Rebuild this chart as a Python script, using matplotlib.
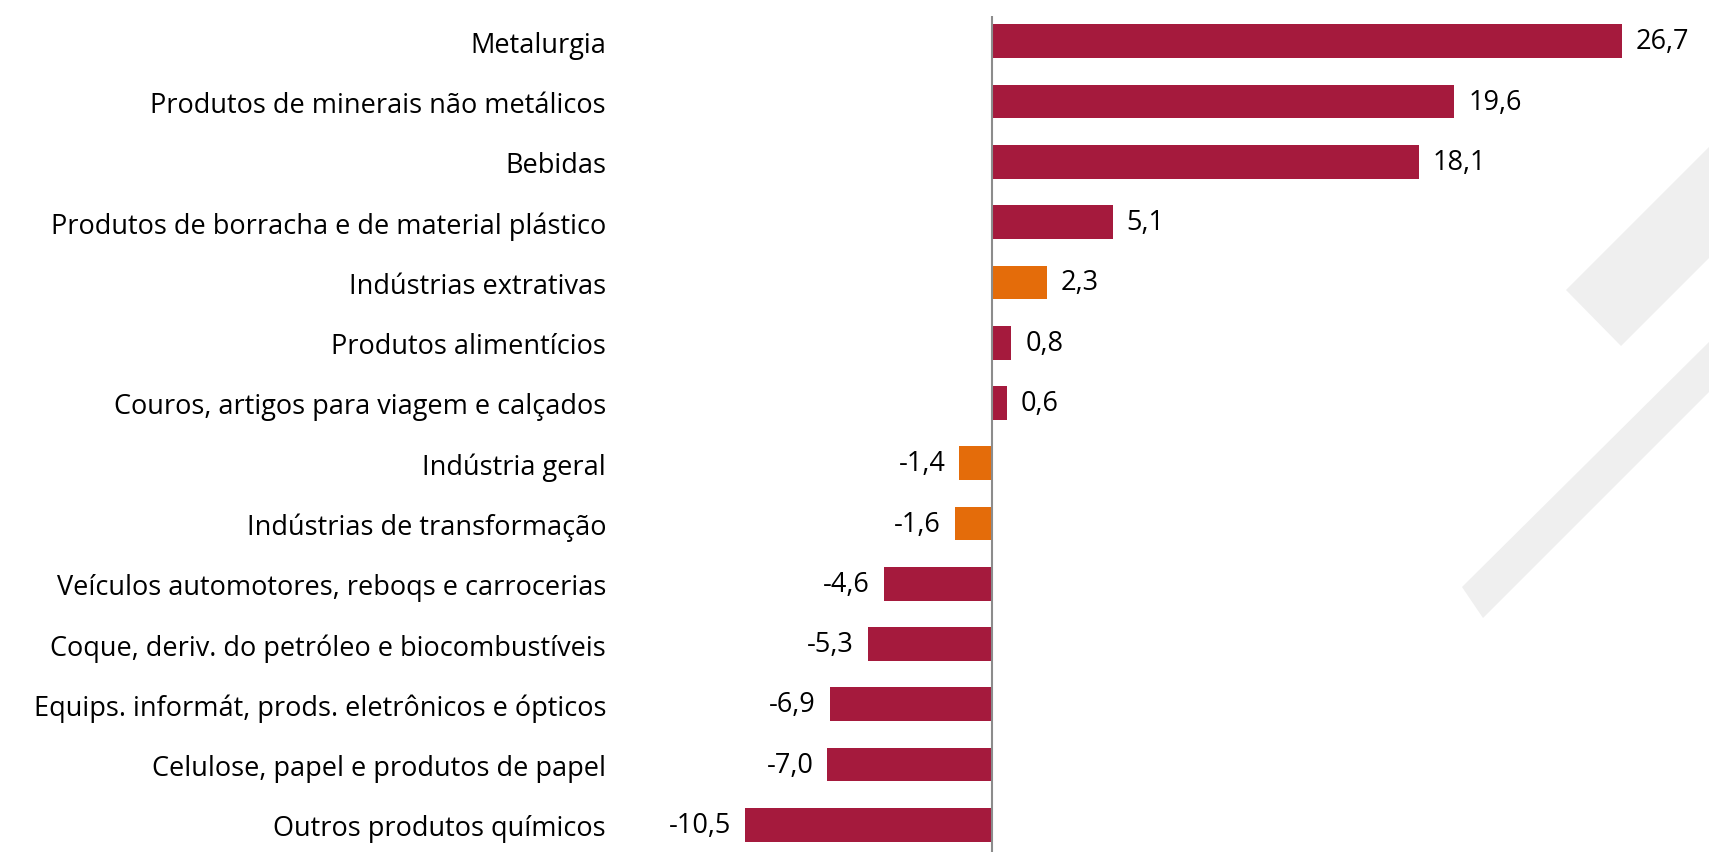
import matplotlib.pyplot as plt
from matplotlib.patches import Polygon

# Data (top to bottom)
categories = ['Metalurgia',
              'Produtos de minerais não metálicos',
              'Bebidas',
              'Produtos de borracha e de material plástico',
              'Indústrias extrativas',
              'Produtos alimentícios',
              'Couros, artigos para viagem e calçados',
              'Indústria geral',
              'Indústrias de transformação',
              'Veículos automotores, reboqs e carrocerias',
              'Coque, deriv. do petróleo e biocombustíveis',
              'Equips. informát, prods. eletrônicos e ópticos',
              'Celulose, papel e produtos de papel',
              'Outros produtos químicos']
values = [26.7, 19.6, 18.1, 5.1, 2.3, 0.8, 0.6, -1.4, -1.6, -4.6, -5.3, -6.9, -7.0, -10.5]
highlight = ['Indústrias extrativas', 'Indústria geral', 'Indústrias de transformação']

red = '#A51A3D'
orange = '#E46C0A'
colors = [orange if c in highlight else red for c in categories]

W, H = 1709, 853
fig = plt.figure(figsize=(W / 100, H / 100), dpi=100)
plt.rcParams['font.family'] = ['Open Sans', 'DejaVu Sans']

# decorative background stripes (pixel coords -> figure fraction)
def fpoly(pts):
    return Polygon([(x / W, 1 - y / H) for x, y in pts], closed=True,
                   transform=fig.transFigure, facecolor='#EFEFEF',
                   edgecolor='none', zorder=0)

fig.patches.append(fpoly([(1566, 291), (1621, 347), (1709, 259), (1709, 148)]))
fig.patches.append(fpoly([(1462, 588), (1483, 619), (1709, 393), (1709, 343)]))

ax_left, ax_right = 620, 1709
ax = fig.add_axes([ax_left / W, 0, (ax_right - ax_left) / W, (H - 17) / H])
ax.patch.set_alpha(0)

y = list(range(len(categories)))
ax.barh(y, values, height=0.56, color=colors, zorder=2)

fs = 19.5
ax.set_xlim(-15.8, 30.4)
ax.set_ylim(13.45, -0.42)
ax.set_yticks(y)
ax.set_yticklabels(categories, fontsize=fs)
ax.tick_params(axis='y', length=0, pad=10)
ax.set_xticks([])
for s in ['top', 'right', 'bottom', 'left']:
    ax.spines[s].set_visible(False)
ax.axvline(0, color='#8C8C8C', lw=1.5, zorder=3)

for yi, v in zip(y, values):
    txt = f'{v:.1f}'.replace('.', ',')
    if v >= 0:
        ax.annotate(txt, (v, yi), xytext=(10, 0), textcoords='offset points',
                    ha='left', va='center', fontsize=fs)
    else:
        ax.annotate(txt, (v, yi), xytext=(-10, 0), textcoords='offset points',
                    ha='right', va='center', fontsize=fs)

fig.savefig('out.png', dpi=100)
